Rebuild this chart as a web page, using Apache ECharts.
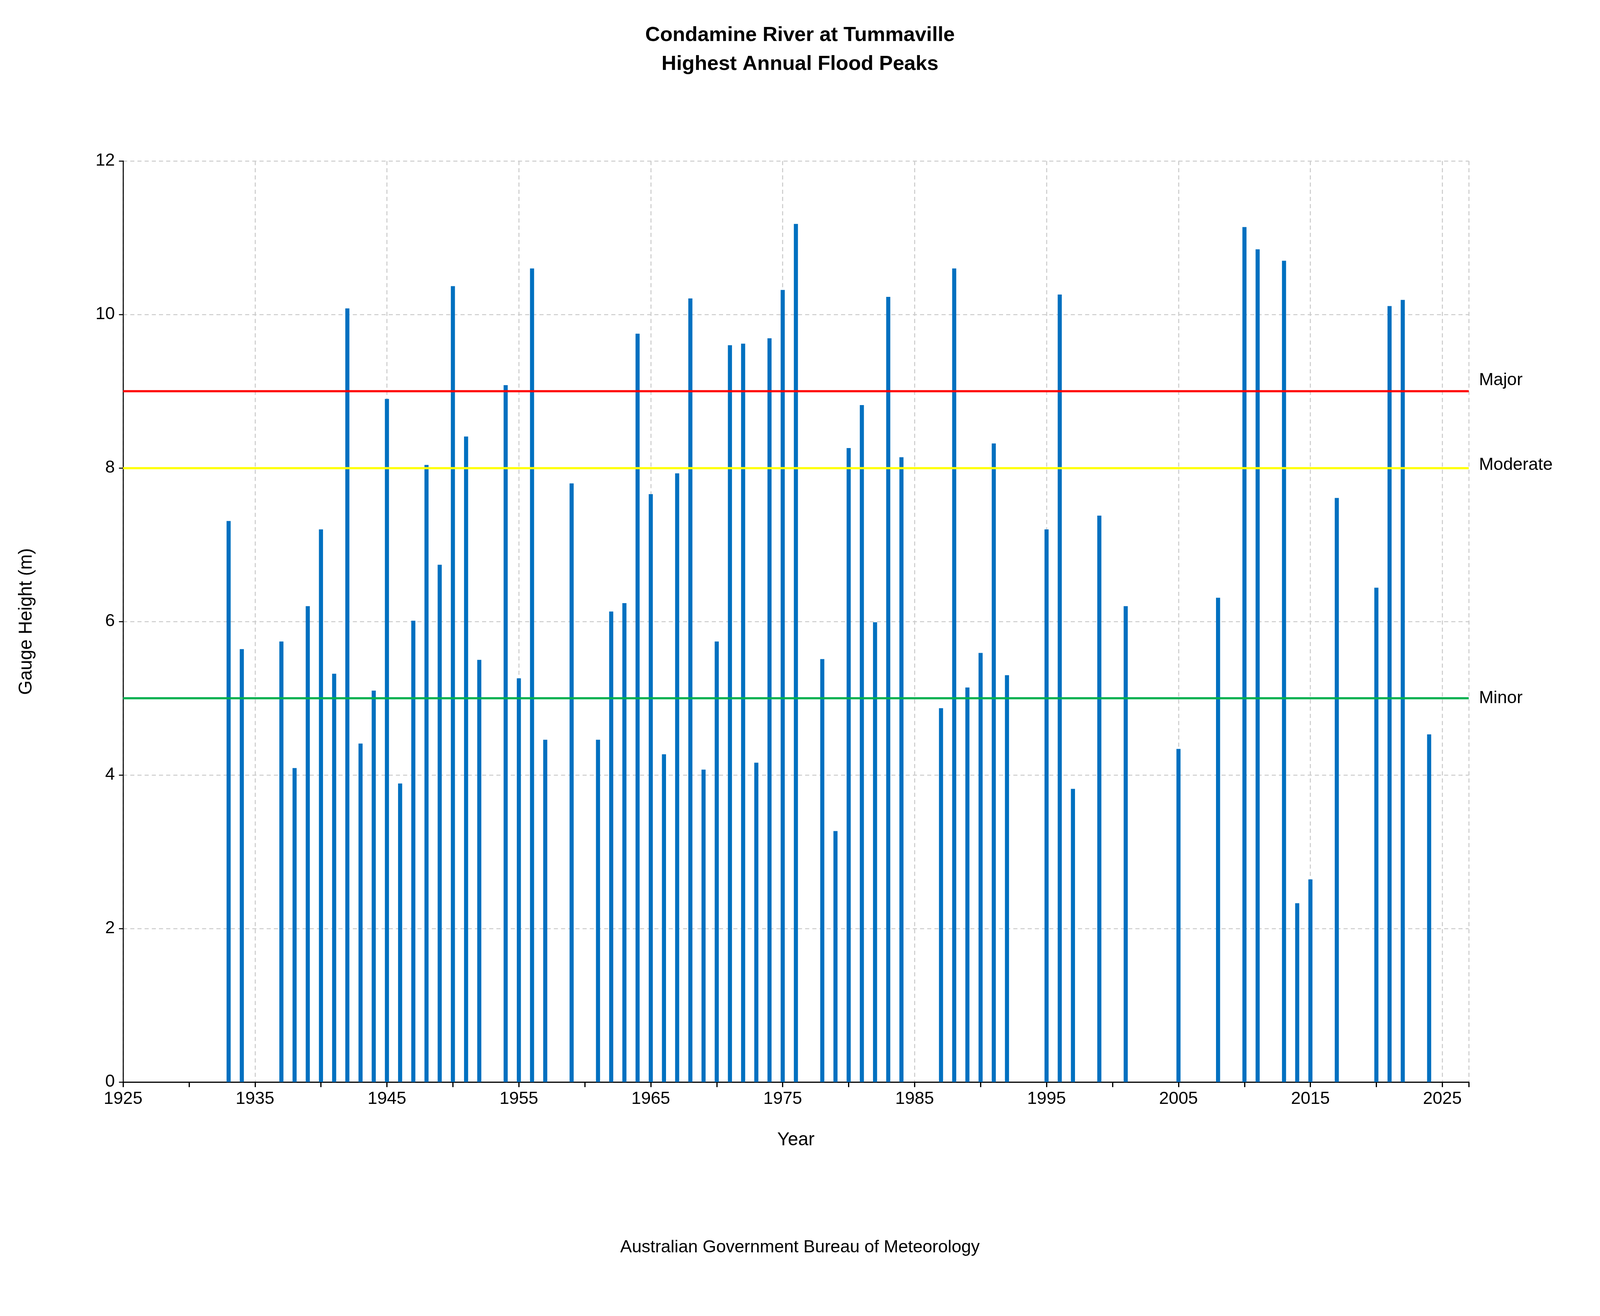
<!DOCTYPE html>
<html><head><meta charset="utf-8">
<script src="https://cdn.jsdelivr.net/npm/echarts@6/dist/echarts.min.js"></script>
<style>html,body{margin:0;padding:0;background:#fff;width:100%;height:100%;overflow:hidden}#chart{width:100vw;height:100vh}</style>
</head><body><div id="chart"></div>
<script>
var years = [1933,1934,1937,1938,1939,1940,1941,1942,1943,1944,1945,1946,1947,1948,1949,1950,1951,1952,1954,1955,1956,1957,1959,1961,1962,1963,1964,1965,1966,1967,1968,1969,1970,1971,1972,1973,1974,1975,1976,1978,1979,1980,1981,1982,1983,1984,1987,1988,1989,1990,1991,1992,1995,1996,1997,1999,2001,2005,2008,2010,2011,2013,2014,2015,2017,2020,2021,2022,2024];
var peaks = [7.31,5.64,5.74,4.09,6.2,7.2,5.32,10.08,4.41,5.1,8.9,3.89,6.01,8.04,6.74,10.37,8.41,5.5,9.08,5.26,10.6,4.46,7.8,4.46,6.13,6.24,9.75,7.66,4.27,7.93,10.21,4.07,5.74,9.6,9.62,4.16,9.69,10.32,11.18,5.51,3.27,8.26,8.82,5.99,10.23,8.14,4.87,10.6,5.14,5.59,8.32,5.3,7.2,10.26,3.82,7.38,6.2,4.34,6.31,11.14,10.85,10.7,2.33,2.64,7.61,6.44,10.11,10.19,4.53];
var levels = [{name:'Minor',value:5,color:'#00b050'},{name:'Moderate',value:8,color:'#ffff00'},{name:'Major',value:9,color:'#ff0000'}];

var el = document.getElementById('chart');
var W = el.clientWidth, H = el.clientHeight;
var sx = W / 1560, sy = H / 964.5;
var s = Math.min(sx, sy);
var chart = echarts.init(el);
var font = 'Liberation Sans';
var option = {
  backgroundColor: '#fff',
  animation: false,
  textStyle: {fontFamily: font},
  title: {
    text: 'Condamine River at Tummaville\nHighest Annual Flood Peaks',
    left: 'center', top: 14 * sy,
    textStyle: {fontSize: 20 * s, fontWeight: 'bold', color: '#000', lineHeight: 28 * s, fontFamily: font}
  },
  graphic: [{
    type: 'text', left: 'center', top: 908 * sy,
    style: {text: 'Australian Government Bureau of Meteorology', fontSize: 17 * s, fill: '#000', fontFamily: font}
  }],
  grid: {left: 120 * sx, right: 128 * sx, top: 118 * sy, bottom: H - 793 * sy},
  xAxis: {
    type: 'value', min: 1925, max: 2027, interval: 10,
    name: 'Year', nameLocation: 'middle', nameGap: 36 * sy,
    nameTextStyle: {fontSize: 18 * s, color: '#000'},
    axisLine: {lineStyle: {color: '#000', width: 1.2 * s}},
    axisTick: {show: true, length: 5 * s, lineStyle: {color: '#000', width: 1.2 * s}},
    minorTick: {show: true, splitNumber: 2, length: 5 * s, lineStyle: {color: '#000', width: 1.2 * s}},
    axisLabel: {fontSize: 17 * s, color: '#000', margin: 8 * s, formatter: function (v) { return String(v); }},
    splitLine: {show: true, lineStyle: {color: '#cccccc', type: [4 * s, 3 * s], width: 1 * s}}
  },
  yAxis: {
    type: 'value', min: 0, max: 12, interval: 2,
    name: 'Gauge Height (m)', nameLocation: 'middle', nameGap: 85 * sx,
    nameTextStyle: {fontSize: 18 * s, color: '#000'},
    axisLine: {show: true, lineStyle: {color: '#000', width: 1 * s}},
    axisTick: {show: true, length: 4 * s, lineStyle: {color: '#000', width: 1 * s}},
    axisLabel: {fontSize: 17 * s, color: '#000', margin: 8 * s},
    splitLine: {show: true, lineStyle: {color: '#cccccc', type: [4 * s, 3 * s], width: 1 * s}}
  },
  series: [{
    type: 'bar', barWidth: 4 * sx,
    itemStyle: {color: '#0070c0'},
    data: years.map(function (y, i) { return [y, peaks[i]]; }),
    markLine: {
      symbol: 'none', silent: true,
      data: levels.map(function (l) {
        return {yAxis: l.value, name: l.name,
          lineStyle: {color: l.color, width: 2 * s, type: 'solid'},
          label: {show: true, position: 'end', formatter: l.name, fontSize: 17 * s, color: '#000', distance: 10 * sx,
            offset: [0, l.name === 'Major' ? -8 * sy : (l.name === 'Moderate' ? -2 * sy : 0)]}};
      })
    }
  }]
};
chart.setOption(option);
</script></body></html>
